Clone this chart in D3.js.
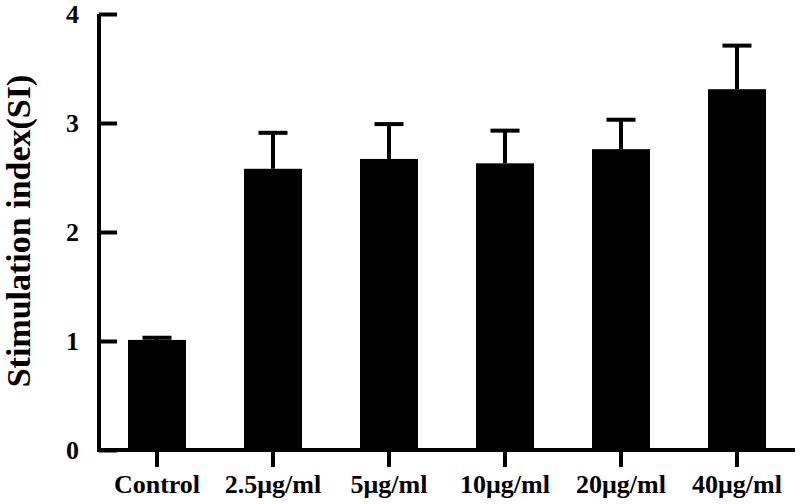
<!DOCTYPE html>
<html><head><meta charset="utf-8">
<script src="https://cdn.jsdelivr.net/npm/d3@7"></script>
<style>html,body{margin:0;padding:0;background:#fff;}</style>
</head><body>
<svg id="chart" width="800" height="504"></svg>
<script>
const categories = ["Control", "2.5μg/ml", "5μg/ml", "10μg/ml", "20μg/ml", "40μg/ml"];
const means = [1.01, 2.58, 2.67, 2.63, 2.76, 3.31];
const errors = [0.02, 0.33, 0.32, 0.30, 0.27, 0.40];
const yTicks = [0, 1, 2, 3, 4];
const yTitle = "Stimulation index(SI)";

const svg = d3.select("#chart");
const font = "'Liberation Serif','Times New Roman',serif";
const x = d3.scaleBand().domain(categories).range([99, 795]).paddingInner(0.5).paddingOuter(0.25);
const y = d3.scaleLinear().domain([0, 4]).range([450, 14]);

// bars
svg.append("g").selectAll("rect").data(categories).join("rect")
  .attr("x", d => x(d)).attr("width", x.bandwidth())
  .attr("y", (d, i) => y(means[i])).attr("height", (d, i) => y(0) - y(means[i]))
  .attr("fill", "#000");

// error bars
const eb = svg.append("g").attr("stroke", "#000").attr("stroke-width", 4);
categories.forEach((c, i) => {
  const cx = x(c) + x.bandwidth() / 2;
  eb.append("line").attr("x1", cx).attr("x2", cx).attr("y1", y(means[i])).attr("y2", y(means[i] + errors[i]));
  eb.append("line").attr("x1", cx - 14.5).attr("x2", cx + 14.5).attr("y1", y(means[i] + errors[i])).attr("y2", y(means[i] + errors[i]));
});

// y axis
const ya = svg.append("g").attr("transform", "translate(99,0)")
  .call(d3.axisLeft(y).tickValues(yTicks).tickSize(-18).tickPadding(20).tickFormat(d3.format("d")));
ya.select(".domain").attr("stroke-width", 4).attr("d", "M0," + y(4) + "V" + (y(0) + 2));
ya.selectAll(".tick line").attr("stroke-width", 4);
ya.selectAll(".tick text").attr("font-family", font).attr("font-weight", "bold").attr("font-size", 26).attr("fill", "#000");

// x axis
const xa = svg.append("g").attr("transform", "translate(0,450)")
  .call(d3.axisBottom(x).tickSize(17).tickPadding(8));
xa.select(".domain").attr("stroke-width", 4).attr("d", "M97,0H795");
xa.selectAll(".tick line").attr("stroke-width", 4);
xa.selectAll(".tick text").attr("font-family", font).attr("font-weight", "bold").attr("font-size", 26).attr("fill", "#000");

// y title
svg.append("text").attr("transform", "translate(30,231) rotate(-90)")
  .attr("text-anchor", "middle").attr("font-family", font).attr("font-weight", "bold")
  .attr("font-size", 34).attr("fill", "#000").text(yTitle);
</script>
</body></html>
